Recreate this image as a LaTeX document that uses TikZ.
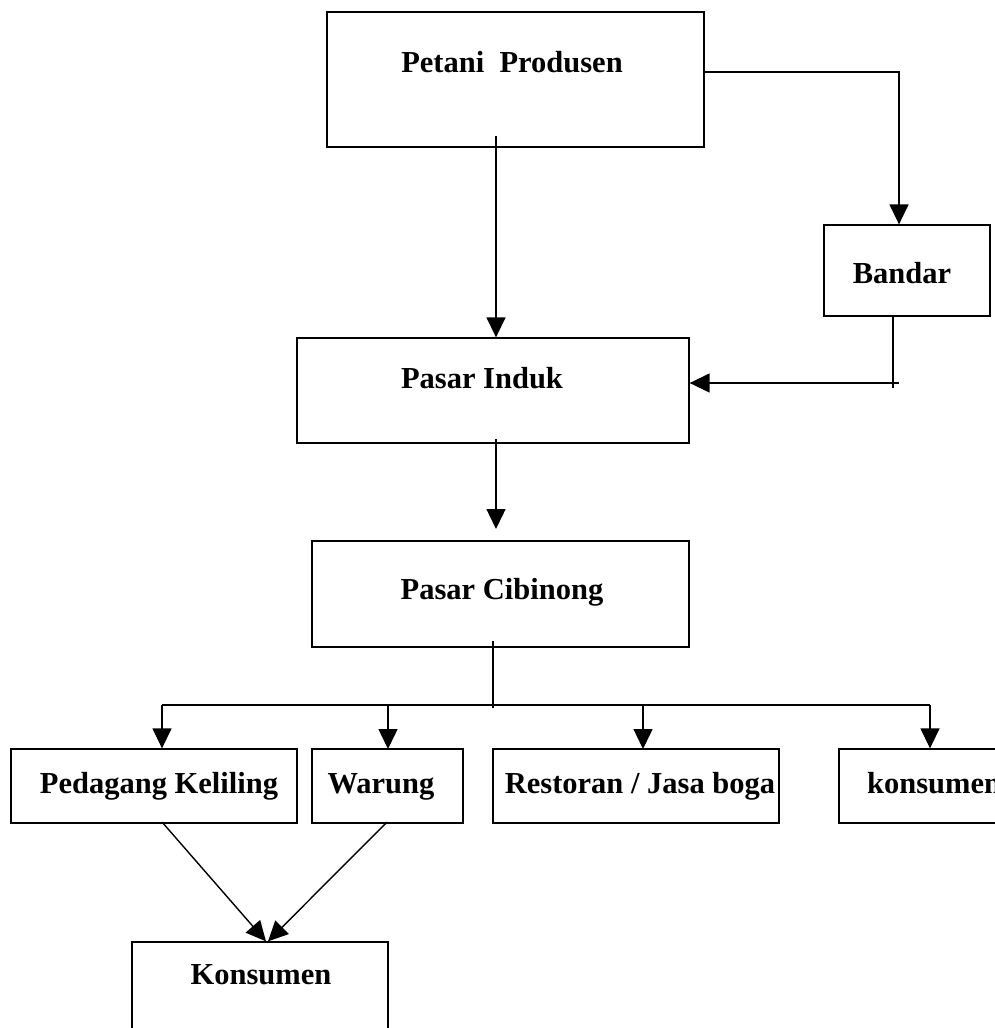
\documentclass[tikz,border=0pt]{standalone}
\usepackage{fontspec}
\setmainfont{Liberation Serif}
\usetikzlibrary{arrows.meta,calc}
\begin{document}
\begin{tikzpicture}[x=1pt,y=-1pt,
  box/.style={draw=black, line width=1.3pt, inner sep=0pt, fill=none},
  lbl/.style={anchor=base, inner sep=0pt, font=\fontsize{30.5}{37}\selectfont\bfseries},
  conn/.style={line width=1.4pt},
  arr/.style={conn, -{Triangle[width=19pt,length=20pt]}}]
\useasboundingbox (0,0) rectangle (995,1028);
\fill[white] (0,0) rectangle (995,1028);
\clip (0,0) rectangle (995,1028);

% boxes
\node[box, minimum width=377pt, minimum height=135pt] (petani) at (515.5,79.5) {};
\node[box, minimum width=166pt, minimum height=91pt] (bandar) at (907,270.5) {};
\node[box, minimum width=392pt, minimum height=105pt] (induk) at (493,390.5) {};
\node[box, minimum width=377pt, minimum height=106pt] (cibinong) at (500.5,594) {};
\node[box, minimum width=286pt, minimum height=74pt] (pedagang) at (154,786) {};
\node[box, minimum width=151pt, minimum height=74pt] (warung) at (387.5,786) {};
\node[box, minimum width=286pt, minimum height=74pt] (restoran) at (636,786) {};
\node[box, minimum width=190pt, minimum height=74pt] (konsumenr) at (934,786) {};
\node[box, minimum width=256pt, minimum height=130pt] (konsumen) at (260,1007) {};

% labels
\node[lbl] (tpetani) at (512,72) {Petani\ \ Produsen};
\node[lbl] (tbandar) at (902,283) {Bandar};
\node[lbl] (tinduk) at (482,388) {Pasar Induk};
\node[lbl] (tcibinong) at (502,599) {Pasar Cibinong};
\node[lbl] (tpedagang) at (159,793) {Pedagang Keliling};
\node[lbl] (twarung) at (381,793) {Warung};
\node[lbl] (trestoran) at (640,793) {Restoran / Jasa boga};
\node[lbl, anchor=base west] (tkonsumenr) at (867,793) {konsumen};
\node[lbl] (tkonsumen) at (261,984) {Konsumen};

% Petani -> Pasar Induk
\coordinate (pv) at (496,136);
\draw[arr] (pv) -- (pv |- induk.north);
% Petani -> Bandar
\draw[arr] ([yshift=7.5pt]petani.east) -| ([xshift=-8pt]bandar.north);
% Bandar -> Pasar Induk
\coordinate (bv) at (893,388);
\draw[conn] ([xshift=-14pt]bandar.south) -- (bv);
\coordinate (bj) at (899,383);
\draw[arr] (bj) -- (induk.east |- bj);
% Pasar Induk -> Pasar Cibinong
\coordinate (iv) at (496,439);
\coordinate (ct) at (496,529);
\draw[arr] (iv) -- (ct);
% Pasar Cibinong -> bottom row
\coordinate (cv) at (493,641);
\coordinate (bus) at (493,708);
\draw[conn] (cv) -- (bus);
\coordinate (busl) at (162,705);
\coordinate (busr) at (930,705);
\draw[conn] (busl) -- (busr);
\draw[arr] (busl) -- (busl |- pedagang.north);
\draw[arr] (388,705) -- (388,749);
\draw[arr] (643,705) -- (643,749);
\draw[arr] (busr) -- (busr |- konsumenr.north);
% to Konsumen
\coordinate (pd) at (162,822);
\coordinate (wd) at (387,822);
\draw[arr] (pd) -- ([xshift=6pt]konsumen.north);
\draw[arr] (wd) -- ([xshift=8pt]konsumen.north);
\end{tikzpicture}
\end{document}
